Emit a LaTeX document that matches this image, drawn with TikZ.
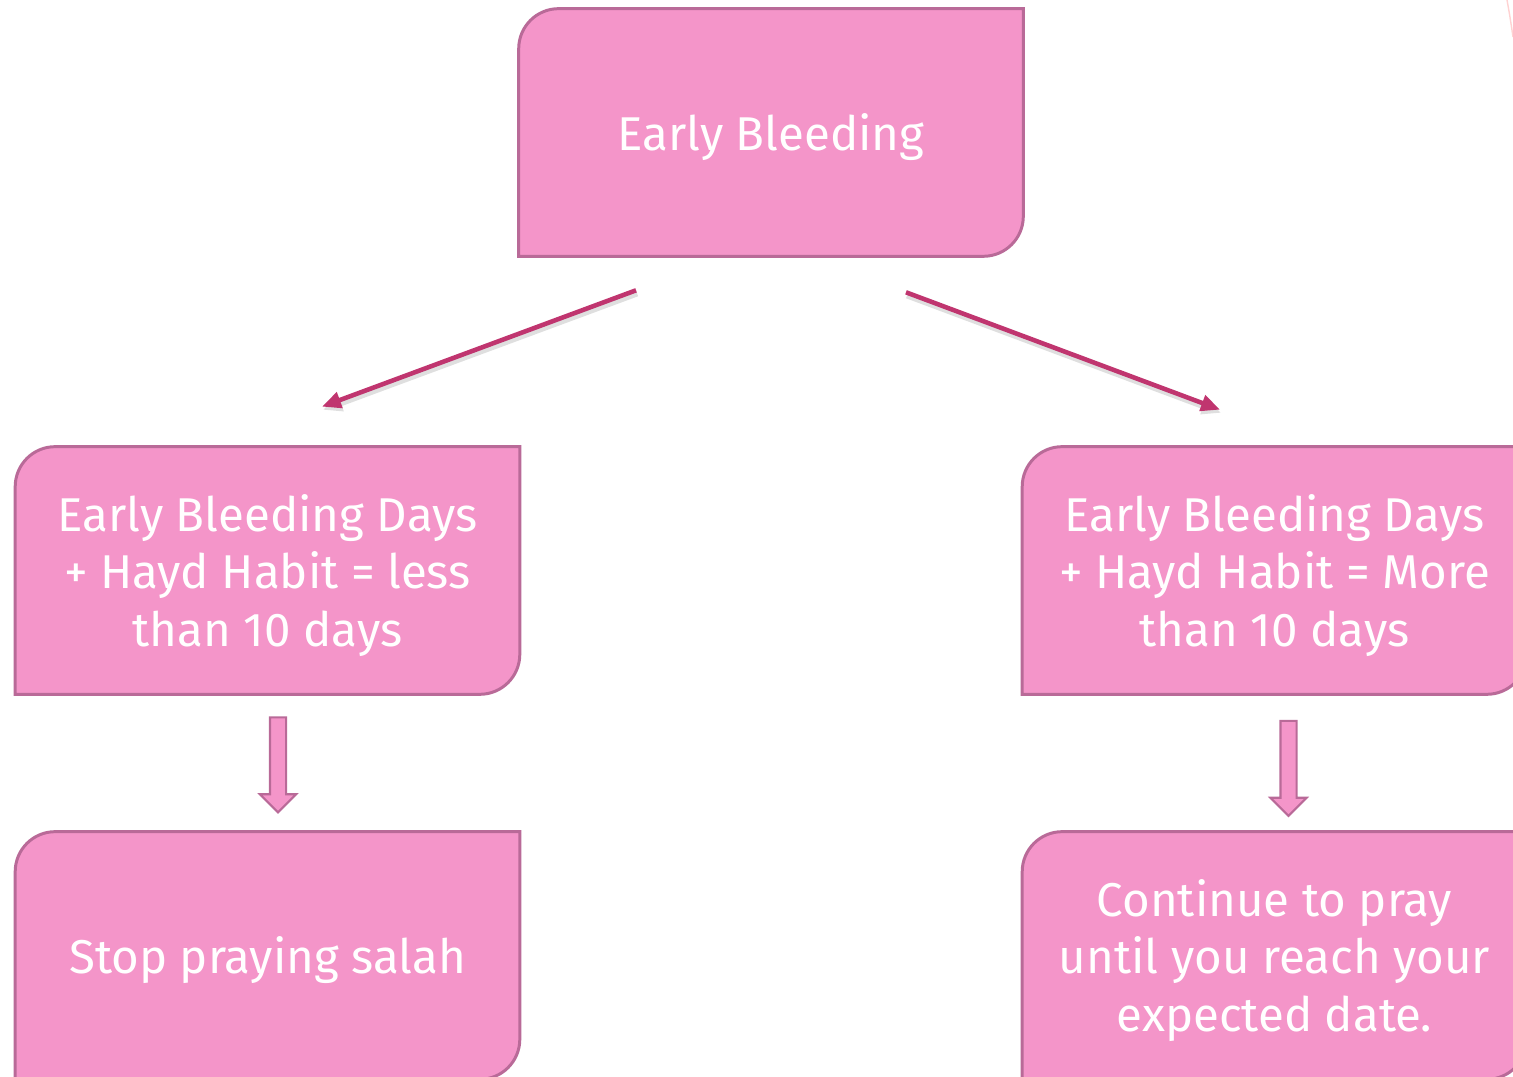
\documentclass[tikz,border=0pt]{standalone}
\usepackage{fontspec}
\setmainfont{Fira Sans}
\usetikzlibrary{arrows.meta,shapes.arrows,calc,backgrounds}

\definecolor{boxpink}{HTML}{F495C9}
\definecolor{boxedge}{HTML}{B96A98}
\definecolor{arrowred}{HTML}{C0356F}

% box with rounded top-left and bottom-right corners, drawn behind its node
% (lifted a little so the text sits where it does in the slide)
\newcommand{\leafbox}[1]{%
  \begin{pgfonlayer}{background}
    \filldraw[draw=boxedge, fill=boxpink, line width=1.7pt, transform canvas={yshift=0.1cm}]
      (#1.south west) -- ([yshift=-0.8cm]#1.north west)
      arc[start angle=180, end angle=90, radius=0.8cm] -- (#1.north east)
      -- ([yshift=0.8cm]#1.south east)
      arc[start angle=0, end angle=-90, radius=0.8cm] -- cycle;
  \end{pgfonlayer}}

\begin{document}
\begin{tikzpicture}[x=0.02cm, y=0.02cm]
    \tikzstyle{leaf}=[minimum width=10.08cm, minimum height=4.94cm, inner sep=0pt,
                      text=white, align=center, font=\fontsize{27}{32.6}\selectfont]
    \tikzstyle{slant}=[draw=arrowred, line width=2.6pt, -{Triangle[length=0.38cm,width=0.32cm]},
                       preaction={draw=gray!25, line width=3.4pt,
                                  transform canvas={xshift=0.6pt, yshift=-1.8pt}}]
    \tikzstyle{downarrow}=[single arrow, draw=boxedge, fill=boxpink, line width=1.2pt,
                           rotate=-90, minimum height=1.9cm, inner sep=0.14cm,
                           single arrow head extend=0.2cm]

    \useasboundingbox (0,0) rectangle (1513,1077);
    \clip (0,0) rectangle (1513,1077);

    \node[leaf] (bleed) at (771,939.5) {Early Bleeding};
    \node[leaf] (lessten) at (267.5,501.5) {Early Bleeding Days\\+ Hayd Habit = less\\than 10 days};
    \node[leaf] (moreten) at (1274.5,501.5) {Early Bleeding Days\\+ Hayd Habit = More\\than 10 days};
    \node[leaf] (stop) at (267.5,116.5) {Stop praying salah};
    \node[leaf] (pray) at (1274.5,116.5) {Continue to pray\\until you reach your\\expected date.};

    \leafbox{bleed}
    \leafbox{lessten}
    \leafbox{moreten}
    \leafbox{stop}
    \leafbox{pray}

    \draw[slant] ([xshift=-2.7cm, yshift=-0.58cm]bleed.south) -- ([xshift=1.09cm, yshift=0.9cm]lessten.north);
    \draw[slant] ([xshift=2.7cm, yshift=-0.62cm]bleed.south) -- ([xshift=-1.09cm, yshift=0.84cm]moreten.north);

    \node[downarrow] (lessdown) at ($(lessten.south)+(10.5,-61.5)$) {};
    \node[downarrow] (moredown) at ($(moreten.south)+(14,-65)$) {};

    % faint stroke in the top right corner
    \draw[pink!70, line width=0.8pt] (1507,1077) .. controls (1510,1060) .. (1513,1040);

\end{tikzpicture}
\end{document}
